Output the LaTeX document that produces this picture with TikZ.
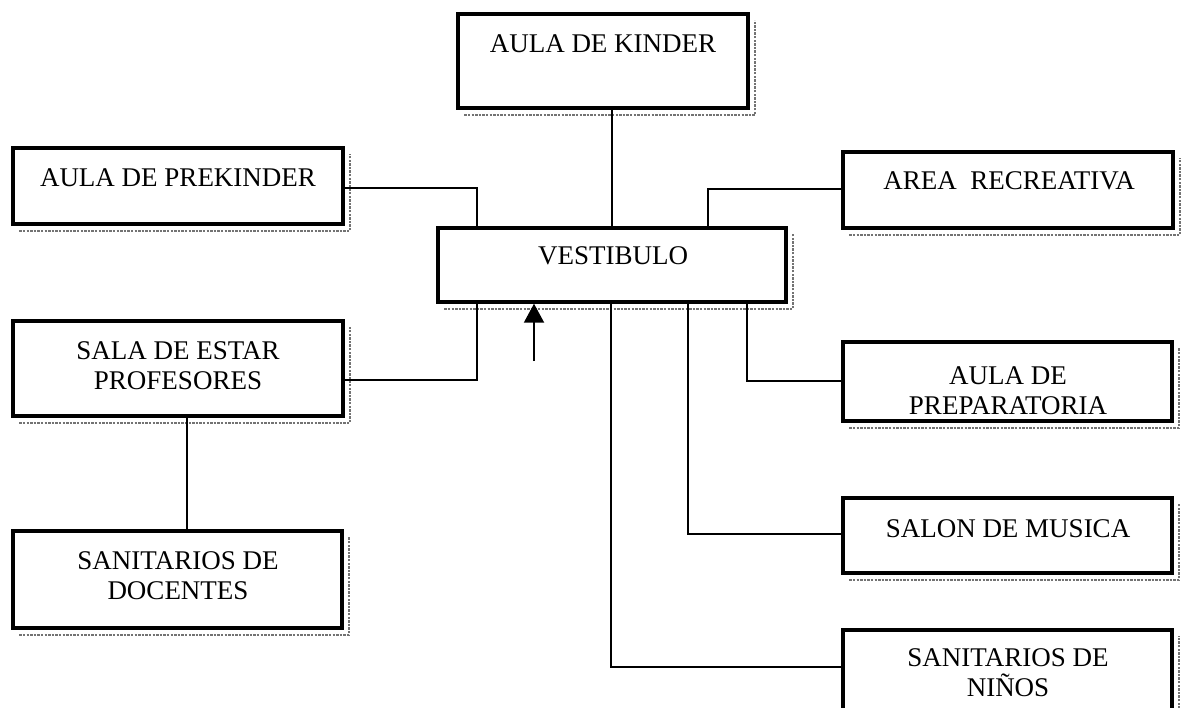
\documentclass[tikz,border=0pt]{standalone}
\usepackage{fontspec}
\setmainfont{Liberation Serif}
\usetikzlibrary{arrows.meta}
\begin{document}
\begin{tikzpicture}[x=0.5pt,y=-0.5pt,
  box/.style={draw, line width=1.7pt, inner sep=0pt},
  lbl/.style={font=\fontsize{13.5}{15}\selectfont, align=center, inner sep=0pt, anchor=base},
  link/.style={line width=1pt},
  shade/.style={line width=0.7pt, black!55, dash pattern=on 1.2pt off 0.6pt}
]
\useasboundingbox (0,0) rectangle (1186,707);
% boxes
\node[box, minimum width=145pt, minimum height=47pt] (k) at (603,61) {};
\node[box, minimum width=165pt, minimum height=38pt] (p) at (178,186) {};
\node[box, minimum width=174pt, minimum height=37pt] (v) at (612,265) {};
\node[box, minimum width=165pt, minimum height=38pt] (a) at (1008,190) {};
\node[box, minimum width=165pt, minimum height=47.5pt] (s) at (178,368.5) {};
\node[box, minimum width=164.5pt, minimum height=48.5pt] (d) at (177.5,579.5) {};
\node[box, minimum width=164.5pt, minimum height=39.5pt] (r) at (1007.5,381.5) {};
\node[box, minimum width=164.5pt, minimum height=37.5pt] (m) at (1007.5,535.5) {};
\node[box, minimum width=164.5pt, minimum height=42pt] (n) at (1007.5,672) {};
% shadows
\foreach \n in {k,p,v,a,s,d,r,m,n}
  \draw[shade] ([xshift=4pt,yshift=-2.6pt]\n.south west) -- ([xshift=2.6pt,yshift=-2.6pt]\n.south east)
               -- ([xshift=2.6pt,yshift=-4pt]\n.north east);
% texts (base anchor = baseline of the last line)
\node[lbl] (kt) at (603,52) {AULA DE KINDER};
\node[lbl] (pt) at (178,186) {AULA DE PREKINDER};
\node[lbl] (vt) at (613,264) {VESTIBULO};
\node[lbl] (at) at (1009,189) {AREA\ \ RECREATIVA};
\node[lbl] (st) at (178,389) {SALA DE ESTAR\\PROFESORES};
\node[lbl] (dt) at (178,599) {SANITARIOS DE\\DOCENTES};
\node[lbl] (rt) at (1008,414) {AULA DE\\PREPARATORIA};
\node[lbl] (mt) at (1008,537) {SALON DE MUSICA};
\node[lbl] (nt) at (1008,696) {SANITARIOS DE\\NIÑOS};
% connectors
\draw[link] (k.south -| v.north) -- (v.north);
\draw[link] (p.east |- 0,188) -| (v.north -| 477,0);
\draw[link] (a.west |- 0,189) -| (v.north -| 708,0);
\draw[link] (v.south -| 477,0) |- (s.east |- 0,380);
\draw[link] (s.south -| 187,0) -- (d.north -| 187,0);
\draw[link] (v.south -| 611,0) |- (n.west |- 0,667);
\draw[link] (v.south -| 688,0) |- (m.west |- 0,534);
\draw[link] (v.south -| 747,0) |- (r.west |- 0,381);
\coordinate (in) at (534,361);
\draw[link, -{Triangle[length=9.5pt, width=10pt]}] (in) -- (v.south -| in);
\end{tikzpicture}
\end{document}
